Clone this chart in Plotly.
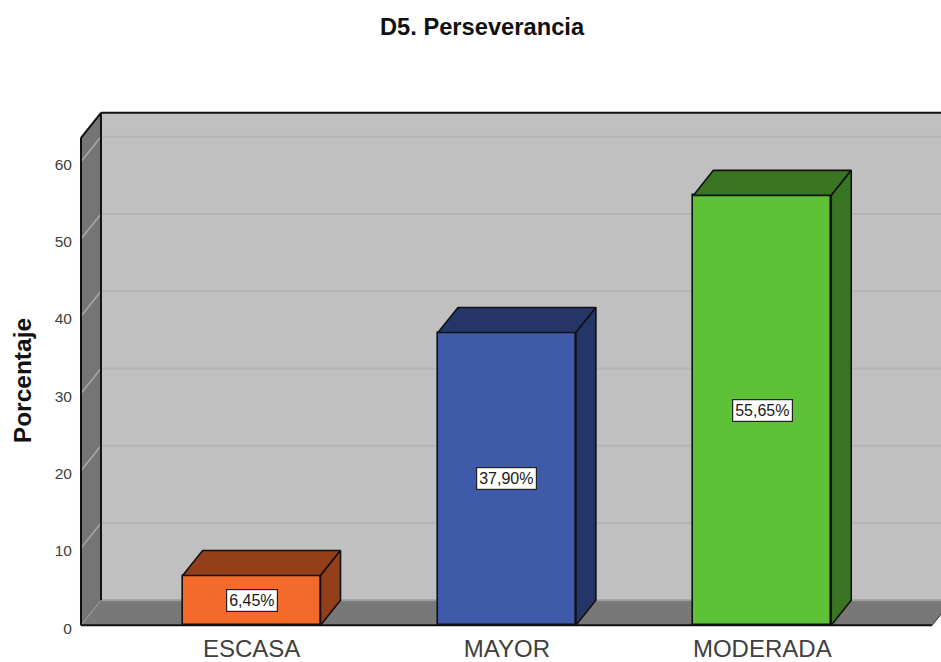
import plotly.graph_objects as go

categories = ["ESCASA", "MAYOR", "MODERADA"]
values = [6.45, 37.90, 55.65]
labels = ["6,45%", "37,90%", "55,65%"]
front_colors = ["#F46A2A", "#3E5AA8", "#5DC236"]
dark_colors = ["#93401A", "#253568", "#3A7523"]
y_ticks = [0, 10, 20, 30, 40, 50, 60]

BAR_WIDTH = 0.54
DX = 0.0783
DY = 3.24
X_LEFT = -0.668
X_RIGHT = 2.665
Y_TOP = 63.1
X_MIN, X_MAX = -0.6797, 2.6998
Y_MIN, Y_MAX = -0.6, 66.7
LABEL_SHIFT = 0.35
WALL = "#C0C0C0"
SIDE = "#757575"
FLOOR = "#787878"
EDGE = "#111111"

fig = go.Figure()

fig.add_trace(go.Bar(
    x=list(range(len(categories))), y=values, width=BAR_WIDTH,
    marker=dict(color=front_colors, line=dict(color=EDGE, width=1.6)),
    hoverinfo="skip", showlegend=False))

for i, v in enumerate(values):
    l, r = i - BAR_WIDTH / 2, i + BAR_WIDTH / 2
    fig.add_trace(go.Scatter(
        x=[l, r, r + DX, l + DX, l], y=[v, v, v + DY, v + DY, v],
        mode="lines", fill="toself", fillcolor=dark_colors[i],
        line=dict(color=EDGE, width=1.6), hoverinfo="skip", showlegend=False))
    fig.add_trace(go.Scatter(
        x=[r, r + DX, r + DX, r, r], y=[0, DY, v + DY, v, 0],
        mode="lines", fill="toself", fillcolor=dark_colors[i],
        line=dict(color=EDGE, width=1.6), hoverinfo="skip", showlegend=False))

# Empty trace so the overlaid label axis is drawn.
fig.add_trace(go.Scatter(x=[None], y=[None], yaxis="y2", hoverinfo="skip", showlegend=False))

def poly(xs, ys, fill):
    path = "M " + " L ".join(f"{a},{b}" for a, b in zip(xs, ys)) + " Z"
    return dict(type="path", path=path, xref="x", yref="y", layer="below",
                fillcolor=fill, line=dict(width=0))

def seg(x0, y0, x1, y1, color, width):
    return dict(type="line", x0=x0, y0=y0, x1=x1, y1=y1, xref="x", yref="y",
                layer="below", line=dict(color=color, width=width))

B = X_LEFT + DX
shapes = [
    poly([B, X_MAX, X_MAX, B], [Y_TOP + DY, Y_TOP + DY, DY, DY], WALL),
    poly([X_LEFT, B, B, X_LEFT], [Y_TOP, Y_TOP + DY, DY, 0], SIDE),
    poly([X_LEFT, X_RIGHT, X_RIGHT + DX, B], [0, 0, DY, DY], FLOOR),
]
for t in y_ticks[1:]:
    shapes.append(seg(B, t + DY, X_MAX, t + DY, "#B4B4B4", 2))
    shapes.append(seg(X_LEFT, t, B, t + DY, "#A8A8A8", 1.5))
shapes += [
    seg(B, DY, X_MAX, DY, "#9C9C9C", 2),
    seg(X_LEFT, 0, B, DY, "#A0A0A0", 1),
    seg(X_LEFT, 0, X_LEFT, Y_TOP, EDGE, 2),
    seg(X_LEFT, Y_TOP, B, Y_TOP + DY, EDGE, 2),
    seg(B, DY, B, Y_TOP + DY, EDGE, 2),
    seg(B, Y_TOP + DY, X_MAX, Y_TOP + DY, EDGE, 2),
    seg(X_LEFT, 0, X_RIGHT, 0, EDGE, 2),
    seg(X_RIGHT, 0, X_RIGHT + DX, DY, "#333333", 1),
]

annotations = [
    dict(x=i, y=v / 2, text=labels[i], showarrow=False, xref="x", yref="y",
         font=dict(family="Liberation Sans", size=16, color="#1A1A1A"),
         bgcolor="white", bordercolor="#222222", borderwidth=1.2, borderpad=2)
    for i, v in enumerate(values)
]
annotations.append(dict(
    text="Porcentaje", textangle=-90, showarrow=False, xref="paper", yref="paper",
    x=(22 - 78) / 863, y=(629.6 - 381) / 519.6, xanchor="center", yanchor="middle",
    font=dict(family="Liberation Sans", size=24.5, color="#111111", weight="bold")))

fig.update_layout(
    width=941, height=662, autosize=False,
    margin=dict(l=78, r=0, t=110, b=32.4),
    paper_bgcolor="white", plot_bgcolor="white",
    title=dict(text="<b>D5. Perseverancia</b>", x=482 / 941, xanchor="center",
               y=1 - 27 / 662, yanchor="middle",
               font=dict(family="Liberation Sans", size=23.7, color="#111111")),
    xaxis=dict(range=[X_MIN, X_MAX], tickmode="array", tickvals=list(range(len(categories))),
               ticktext=categories, showgrid=False, zeroline=False, showline=False,
               ticks="", ticklabelstandoff=2,
               tickfont=dict(family="Liberation Sans", size=24, color="#404040")),
    yaxis=dict(range=[Y_MIN, Y_MAX], showticklabels=False, ticks="",
               showgrid=False, zeroline=False, showline=False),
    yaxis2=dict(overlaying="y", side="left", anchor="x",
                range=[Y_MIN + LABEL_SHIFT, Y_MAX + LABEL_SHIFT],
                tickmode="array", tickvals=y_ticks,
                showgrid=False, zeroline=False, showline=False,
                ticks="outside", ticklen=2, tickcolor="rgba(0,0,0,0)",
                tickfont=dict(family="Liberation Sans", size=15.5, color="#404040")),
    shapes=shapes, annotations=annotations, showlegend=False, bargap=0,
)

fig.write_html("out.html", config={"displayModeBar": False},
               post_script="document.body.style.margin='0';")
